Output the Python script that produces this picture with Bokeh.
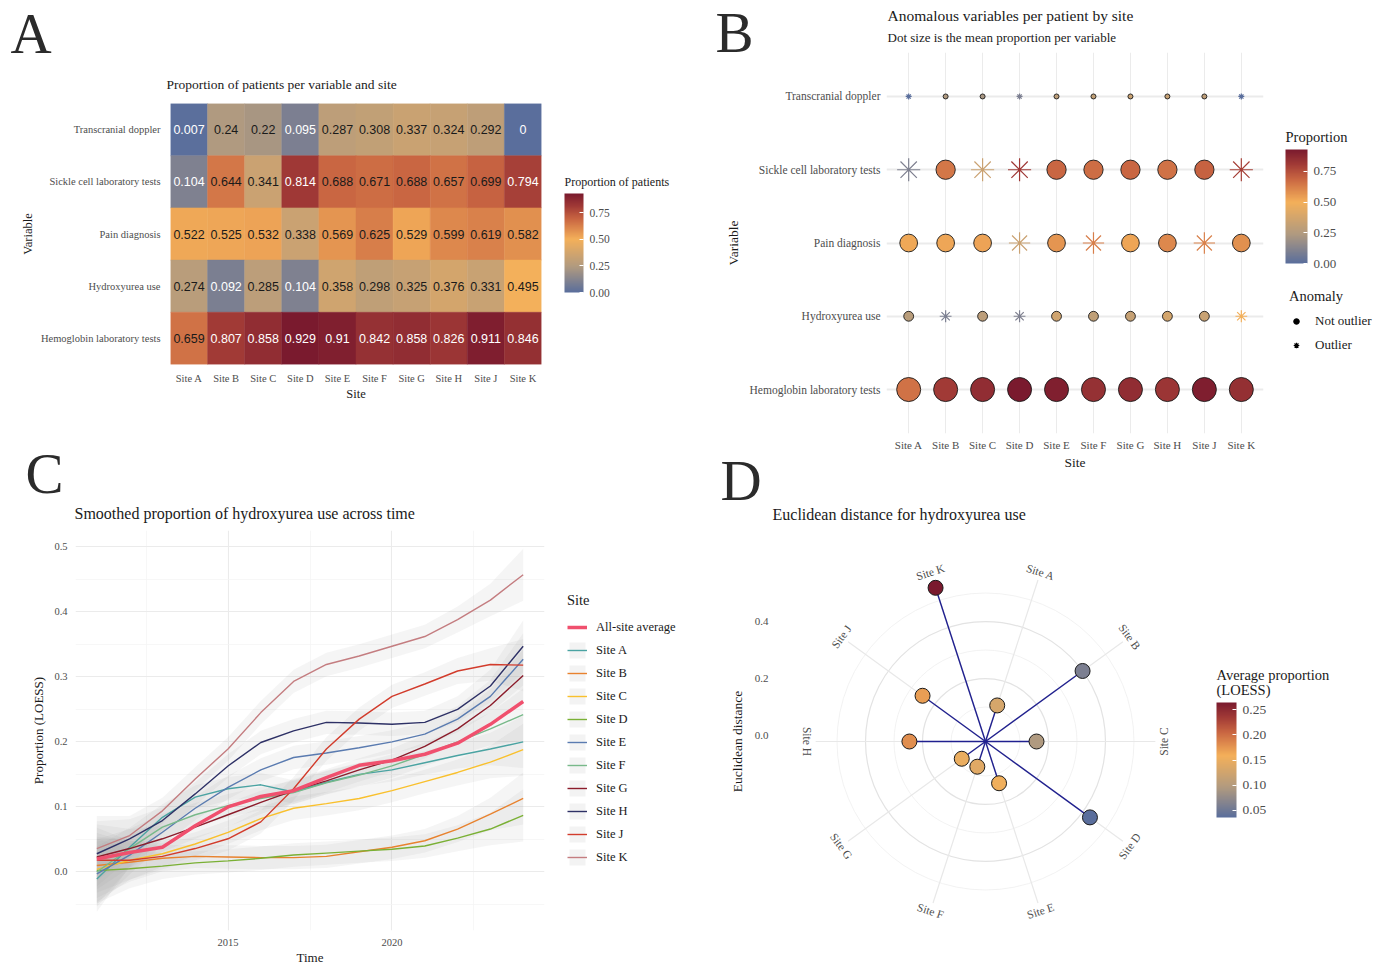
import math
from bokeh.core.properties import value
from bokeh.embed import file_html
from bokeh.layouts import column, row
from bokeh.models import (ColorBar, ColumnDataSource, FactorRange, FixedTicker,
                          Legend, LegendItem, LinearColorMapper, PrintfTickFormatter, Range1d)
from bokeh.plotting import figure
from bokeh.resources import INLINE
from bokeh.transform import transform

SERIF = "Liberation Serif"
SANS = "Liberation Sans"
INK = "#1a1a1a"
TICK_GREY = "#4d4d4d"
GRID = "#ebebeb"
LETTER = "#2b2b2b"

# ---------------------------------------------------------------- data
sites = ["Site A", "Site B", "Site C", "Site D", "Site E",
         "Site F", "Site G", "Site H", "Site J", "Site K"]
variables = ["Transcranial doppler", "Sickle cell laboratory tests", "Pain diagnosis",
             "Hydroxyurea use", "Hemoglobin laboratory tests"]

prop_transcranial_doppler = [0.007, 0.24, 0.22, 0.095, 0.287, 0.308, 0.337, 0.324, 0.292, 0.0]
prop_sickle_cell_tests = [0.104, 0.644, 0.341, 0.814, 0.688, 0.671, 0.688, 0.657, 0.699, 0.794]
prop_pain_diagnosis = [0.522, 0.525, 0.532, 0.338, 0.569, 0.625, 0.529, 0.599, 0.619, 0.582]
prop_hydroxyurea_use = [0.274, 0.092, 0.285, 0.104, 0.358, 0.298, 0.325, 0.376, 0.331, 0.495]
prop_hemoglobin_tests = [0.659, 0.807, 0.858, 0.929, 0.91, 0.842, 0.858, 0.826, 0.911, 0.846]

outlier_transcranial_doppler = [True, False, False, True, False, False, False, False, False, True]
outlier_sickle_cell_tests = [True, False, True, True, False, False, False, False, False, True]
outlier_pain_diagnosis = [False, False, False, True, False, True, False, False, True, False]
outlier_hydroxyurea_use = [False, True, False, True, False, False, False, False, False, True]
outlier_hemoglobin_tests = [False, False, False, False, False, False, False, False, False, False]

years = [2011, 2012, 2013, 2014, 2015, 2016, 2017, 2018, 2019, 2020, 2021, 2022, 2023, 2024]
hu_all_site_average = [0.020, 0.030, 0.038, 0.071, 0.100, 0.116, 0.125, 0.145, 0.164, 0.171, 0.181, 0.198, 0.227, 0.262]
hu_site_a = [-0.011, 0.038, 0.084, 0.115, 0.128, 0.134, 0.123, 0.138, 0.150, 0.157, 0.168, 0.179, 0.189, 0.200]
hu_site_b = [0.010, 0.015, 0.021, 0.024, 0.023, 0.022, 0.022, 0.024, 0.031, 0.038, 0.048, 0.066, 0.089, 0.113]
hu_site_c = [0.004, 0.018, 0.028, 0.043, 0.061, 0.082, 0.098, 0.105, 0.113, 0.125, 0.139, 0.153, 0.169, 0.188]
hu_site_d = [0.002, 0.005, 0.009, 0.014, 0.017, 0.021, 0.026, 0.029, 0.032, 0.035, 0.040, 0.052, 0.066, 0.087]
hu_site_e = [-0.003, 0.026, 0.061, 0.098, 0.130, 0.157, 0.176, 0.183, 0.191, 0.200, 0.212, 0.235, 0.270, 0.327]
hu_site_f = [0.000, 0.036, 0.069, 0.088, 0.102, 0.113, 0.122, 0.137, 0.149, 0.163, 0.181, 0.200, 0.220, 0.242]
hu_site_g = [0.023, 0.036, 0.051, 0.069, 0.088, 0.107, 0.125, 0.140, 0.157, 0.172, 0.193, 0.220, 0.256, 0.302]
hu_site_h = [0.028, 0.051, 0.079, 0.120, 0.163, 0.199, 0.217, 0.230, 0.229, 0.227, 0.230, 0.250, 0.286, 0.347]
hu_site_j = [0.018, 0.018, 0.024, 0.036, 0.051, 0.077, 0.128, 0.189, 0.235, 0.270, 0.289, 0.309, 0.319, 0.318]
hu_site_k = [0.036, 0.056, 0.094, 0.143, 0.189, 0.245, 0.293, 0.319, 0.332, 0.347, 0.362, 0.388, 0.418, 0.457]
hu_band_halfwidth = [0.050, 0.030, 0.020, 0.018, 0.018, 0.018, 0.018, 0.018, 0.018, 0.018, 0.018, 0.020, 0.025, 0.040]

euclidean_distance = [0.112, 0.400, 0.158, 0.432, 0.133, 0.072, 0.082, 0.246, 0.252, 0.546]
average_proportion_loess = [0.130, 0.060, 0.095, 0.036, 0.155, 0.140, 0.150, 0.180, 0.170, 0.264]
ring_breaks = [0.1, 0.2, 0.3, 0.4, 0.5]

# ---------------------------------------------------------------- palette
PAL_STOPS = [(0.0, "#5a6e9c"), (0.258, "#b09a80"), (0.538, "#f4b05a"),
             (0.742, "#c96642"), (0.872, "#a13a36"), (1.0, "#7a1a2e")]


def _rgb(h):
    return tuple(int(h[i:i + 2], 16) for i in (1, 3, 5))


def build_palette(n=256):
    out = []
    for k in range(n):
        t = k / (n - 1)
        for (t0, c0), (t1, c1) in zip(PAL_STOPS[:-1], PAL_STOPS[1:]):
            if t <= t1:
                break
        f = (t - t0) / (t1 - t0)
        a, b = _rgb(c0), _rgb(c1)
        out.append("#%02x%02x%02x" % tuple(int(round(x + (y - x) * f)) for x, y in zip(a, b)))
    return out


PALETTE = build_palette()


# ---------------------------------------------------------------- helpers
def canvas(w, h, transparent=False):
    """A figure whose frame is the whole canvas; coordinates are pixels from top-left."""
    c = figure(width=w, height=h, x_range=Range1d(0, w), y_range=Range1d(h, 0), title=None,
               x_axis_location=None, y_axis_location=None, toolbar_location=None,
               output_backend="svg", min_border=0)
    c.outline_line_color = None
    c.grid.visible = False
    if transparent:
        c.background_fill_alpha = 0
        c.border_fill_alpha = 0
    return c


def put_text(c, x, y, text, size, color=INK, font=SERIF, align="left"):
    c.text(x=[x], y=[y], text=[text], text_font=value(font), text_font_size=f"{size}px",
           text_color=color, text_baseline="middle", text_align=align)


def style_axes(p):
    p.outline_line_color = None
    p.axis.axis_line_color = None
    p.axis.major_tick_line_color = None
    p.axis.minor_tick_line_color = None
    p.axis.major_tick_out = 0
    p.axis.major_tick_in = 0
    p.axis.minor_tick_out = 0
    p.axis.minor_tick_in = 0
    p.axis.major_label_text_font = SERIF
    p.axis.major_label_text_color = TICK_GREY
    p.axis.axis_label_text_font = SERIF
    p.axis.axis_label_text_font_style = "normal"
    p.axis.axis_label_text_color = INK


def make_colorbar(mapper, loc, w, h, label_size, ticks):
    return ColorBar(color_mapper=mapper, location=loc, width=w, height=h, padding=0, margin=0,
                    ticker=FixedTicker(ticks=ticks), formatter=PrintfTickFormatter(format="%.2f"),
                    major_label_text_font=SERIF, major_label_text_font_size=f"{label_size}px",
                    major_label_text_color=TICK_GREY, label_standoff=6,
                    major_tick_line_color="white", major_tick_in=4, major_tick_out=0,
                    minor_tick_line_color=None, bar_line_color=None, border_line_color=None,
                    background_fill_color=None)


def legend_style(**kw):
    base = dict(title_text_font=SERIF, title_text_font_size="14.5px", title_text_font_style="normal",
                title_text_color=INK, title_standoff=8, label_text_font=SERIF,
                label_text_color=INK, padding=0, margin=0, border_line_color=None,
                background_fill_alpha=0, inactive_fill_alpha=0)
    base.update(kw)
    return base


rows = [prop_transcranial_doppler, prop_sickle_cell_tests, prop_pain_diagnosis,
        prop_hydroxyurea_use, prop_hemoglobin_tests]
outs = [outlier_transcranial_doppler, outlier_sickle_cell_tests, outlier_pain_diagnosis,
        outlier_hydroxyurea_use, outlier_hemoglobin_tests]
vmax = max(v for r in rows for v in r)

# ================================================================ panel A
hA = canvas(700, 95)
put_text(hA, 10, 33, "A", 57, color=LETTER)
put_text(hA, 166, 84, "Proportion of patients per variable and site", 13.5)

pA = figure(width=555, height=345, x_range=FactorRange(factors=sites),
            y_range=FactorRange(factors=variables[::-1]), title=None, output_backend="svg",
            toolbar_location=None, min_border_left=170, min_border_right=14,
            min_border_top=8, min_border_bottom=76)
mapperA = LinearColorMapper(palette=PALETTE, low=0, high=vmax)
hx, hy, hv, hl, hc = [], [], [], [], []
for var, vals in zip(variables, rows):
    for s, v in zip(sites, vals):
        hx.append(s)
        hy.append(var)
        hv.append(v)
        hl.append(f"{v:g}")
        hc.append("white" if (v < 0.2 or v > 0.75) else INK)
srcA = ColumnDataSource(dict(x=hx, y=hy, v=hv, label=hl, tc=hc))
pA.rect(x="x", y="y", width=1, height=1, source=srcA, fill_color=transform("v", mapperA),
        line_color=transform("v", mapperA), line_width=0.5)
pA.text(x="x", y="y", text="label", source=srcA, text_color="tc", text_align="center",
        text_baseline="middle", text_font=value(SANS), text_font_size="12.5px")
style_axes(pA)
pA.grid.visible = False
pA.xaxis.major_label_text_font_size = "10.5px"
pA.yaxis.major_label_text_font_size = "10.5px"
pA.xaxis.major_label_standoff = 8
pA.yaxis.major_label_standoff = 10
pA.xaxis.axis_label = "Site"
pA.yaxis.axis_label = "Variable"
pA.axis.axis_label_text_font_size = "12.5px"
pA.xaxis.axis_label_standoff = 0
pA.yaxis.axis_label_standoff = 3

sA = canvas(145, 345)
sA.add_layout(make_colorbar(mapperA, (9, 148), 19, 99, 11.5, [0, 0.25, 0.5, 0.75]))
put_text(sA, 9, 86, "Proportion of patients", 12)

# ================================================================ panel C
hC = canvas(700, 85)
put_text(hC, 25, 33, "C", 57, color=LETTER)
put_text(hC, 74, 73, "Smoothed proportion of hydroxyurea use across time", 16)

pC = figure(width=555, height=442, x_range=Range1d(2010.35, 2024.65),
            y_range=Range1d(-0.09, 0.525), title=None, output_backend="svg",
            toolbar_location=None, min_border_left=75, min_border_right=11,
            min_border_top=5, min_border_bottom=37)
series = [hu_site_a, hu_site_b, hu_site_c, hu_site_d, hu_site_e,
          hu_site_f, hu_site_g, hu_site_h, hu_site_j, hu_site_k]
series_colors = ["#4aa3a2", "#e8822e", "#f9c02d", "#7ab035", "#5a7bb0",
                 "#78b98a", "#8b1c2b", "#2e3166", "#d23c2c", "#c47d80"]
AVG_COLOR = "#f0506e"
BAND_FILL, BAND_ALPHA = "#999999", 0.1
band_lo, band_hi = [], []
for vals in series:
    lo = [v - h for v, h in zip(vals, hu_band_halfwidth)]
    hi = [v + h for v, h in zip(vals, hu_band_halfwidth)]
    band_lo.append(lo)
    band_hi.append(hi)
    pC.varea(x=years, y1=lo, y2=hi, fill_color=BAND_FILL, fill_alpha=BAND_ALPHA)
for vals, col in zip(series, series_colors):
    pC.line(x=years, y=vals, line_color=col, line_width=1.4)
pC.line(x=years, y=hu_all_site_average, line_color=AVG_COLOR, line_width=3.5)
style_axes(pC)
pC.xaxis.ticker = FixedTicker(ticks=[2015, 2020], minor_ticks=[2012.5, 2017.5, 2022.5])
pC.yaxis.ticker = FixedTicker(ticks=[0, 0.1, 0.2, 0.3, 0.4, 0.5],
                              minor_ticks=[-0.05, 0.05, 0.15, 0.25, 0.35, 0.45])
pC.yaxis.formatter = PrintfTickFormatter(format="%.1f")
pC.grid.grid_line_color = GRID
pC.grid.grid_line_width = 1.1
pC.grid.minor_grid_line_color = "#f3f3f3"
pC.grid.minor_grid_line_width = 0.7
pC.axis.major_label_text_font_size = "10.5px"
pC.xaxis.major_label_standoff = 8
pC.yaxis.major_label_standoff = 8
pC.xaxis.axis_label = "Time"
pC.yaxis.axis_label = "Proportion (LOESS)"
pC.axis.axis_label_text_font_size = "13px"
pC.xaxis.axis_label_standoff = 1
pC.yaxis.axis_label_standoff = 5

# legend for C: hidden proxy renderers (same styles) inside a side canvas
sC = canvas(145, 442)
key_avg = sC.line(x=years, y=hu_all_site_average, line_color=AVG_COLOR, line_width=3.5,
                  visible=False)
itemsC = [LegendItem(label="All-site average", renderers=[key_avg])]
for s, col, vals, lo, hi in zip(sites, series_colors, series, band_lo, band_hi):
    kb = sC.varea(x=years, y1=lo, y2=hi, fill_color=BAND_FILL, fill_alpha=0.12, visible=False)
    kl = sC.line(x=years, y=vals, line_color=col, line_width=1.4, visible=False)
    itemsC.append(LegendItem(label=s, renderers=[kb, kl]))
sC.add_layout(Legend(items=itemsC, location=(12, 100), title="Site",
                     **legend_style(label_text_font_size="12.5px", glyph_width=20,
                                    glyph_height=20, label_height=20, spacing=3,
                                    label_standoff=9)))

# ================================================================ panel B
hB = canvas(685, 63)
put_text(hB, 15, 32, "B", 57, color=LETTER)
put_text(hB, 187, 15, "Anomalous variables per patient by site", 15.5)
put_text(hB, 187, 37, "Dot size is the mean proportion per variable", 13)

pB = figure(width=575, height=420,
            x_range=FactorRange(factors=sites, range_padding=0.1, range_padding_units="absolute"),
            y_range=FactorRange(factors=variables[::-1], range_padding=0.1,
                                range_padding_units="absolute"),
            title=None, output_backend="svg", toolbar_location=None, min_border_left=186,
            min_border_right=12, min_border_top=0, min_border_bottom=36)
mapperB = LinearColorMapper(palette=PALETTE, low=0, high=vmax)
means = [sum(r) / len(r) for r in rows]
mmin, mmax = min(means), max(means)
DMIN, DMAX = 5.0, 24.0
cx, cy, cv, cs = [], [], [], []
sx, sy, sv, ss = [], [], [], []
for var, vals, flags, m in zip(variables, rows, outs, means):
    t = (m - mmin) / (mmax - mmin)
    d = math.sqrt(DMIN ** 2 + t * (DMAX ** 2 - DMIN ** 2))
    for s, v, f in zip(sites, vals, flags):
        if f:
            sx.append(s); sy.append(var); sv.append(v); ss.append(d * 1.2)
        else:
            cx.append(s); cy.append(var); cv.append(v); cs.append(d)
srcBc = ColumnDataSource(dict(x=cx, y=cy, v=cv, s=cs))
srcBs = ColumnDataSource(dict(x=sx, y=sy, v=sv, s=ss))
pB.scatter(x="x", y="y", size="s", source=srcBc, marker="circle",
           fill_color=transform("v", mapperB), line_color="#1a1a1a", line_width=0.9)
pB.scatter(x="x", y="y", size="s", source=srcBs, marker="asterisk",
           line_color=transform("v", mapperB), line_width=1.2)
style_axes(pB)
pB.xgrid.grid_line_color = GRID
pB.xgrid.grid_line_width = 1
pB.ygrid.grid_line_color = GRID
pB.ygrid.grid_line_width = 2
pB.xaxis.major_label_text_font_size = "11px"
pB.yaxis.major_label_text_font_size = "11.5px"
pB.xaxis.major_label_standoff = 5
pB.yaxis.major_label_standoff = 6
pB.xaxis.axis_label = "Site"
pB.yaxis.axis_label = "Variable"
pB.axis.axis_label_text_font_size = "13.5px"
pB.xaxis.axis_label_standoff = 1
pB.yaxis.axis_label_standoff = 6

sB = canvas(110, 420)
sB.add_layout(make_colorbar(mapperB, (10, 209), 22, 114, 13, [0, 0.25, 0.5, 0.75]))
put_text(sB, 10, 84, "Proportion", 14.5)
srcBkey = ColumnDataSource(dict(x=[means[0]], y=[means[0]]))
dot_r = sB.scatter(x="x", y="y", source=srcBkey, marker="circle", fill_color="black",
                   line_color="black", visible=False)
star_r = sB.scatter(x="x", y="y", source=srcBkey, marker="asterisk", line_color="black",
                    line_width=1.2, visible=False)
sB.add_layout(Legend(items=[LegendItem(label="Not outlier", renderers=[dot_r]),
                            LegendItem(label="Outlier", renderers=[star_r])],
                     location=(14, 119), title="Anomaly",
                     **legend_style(label_text_font_size="13px", glyph_width=14,
                                    glyph_height=14, label_height=14, spacing=8,
                                    label_standoff=12)))

# ================================================================ panel D
hD = canvas(685, 97, transparent=True)
put_text(hD, 20, 32, "D", 57, color=LETTER)
put_text(hD, 72, 66, "Euclidean distance for hydroxyurea use", 16)

OFF = 0.021          # radial position of r = 0 away from the centre (data units)
PX_PER_UNIT = 285
HALF_W = 414 / PX_PER_UNIT / 2
HALF_H = 191 / PX_PER_UNIT
pD = figure(width=505, height=420, x_range=Range1d(-HALF_W, HALF_W),
            y_range=Range1d(-OFF - HALF_H, -OFF + HALF_H), title=None, output_backend="svg",
            toolbar_location=None, min_border_left=78, min_border_right=13,
            min_border_top=5, min_border_bottom=33)
style_axes(pD)
pD.grid.visible = False
pD.xaxis.visible = False
n = len(sites)
thetas = [2 * math.pi * (i + 0.5) / n for i in range(n)]
for rb in ring_breaks:
    major = abs(round(rb / 0.2) * 0.2 - rb) < 1e-9
    pD.circle(x=0, y=-OFF, radius=rb + OFF, fill_color=None,
              line_color="#e3e3e3" if major else "#efefef", line_width=1.2 if major else 0.8)
SPOKE_R, LABEL_R = 0.596, 0.625
pD.segment(x0=[0] * n, y0=[-OFF] * n,
           x1=[SPOKE_R * math.sin(t) for t in thetas],
           y1=[-OFF + SPOKE_R * math.cos(t) for t in thetas],
           line_color="#e8e8e8", line_width=1.2)
lab_angle = []
for t in thetas:
    a = -t
    if math.pi / 2 - 1e-9 <= t <= 3 * math.pi / 2 + 1e-9:
        a += math.pi
    lab_angle.append(a)
srcDl = ColumnDataSource(dict(x=[LABEL_R * math.sin(t) for t in thetas],
                              y=[-OFF + LABEL_R * math.cos(t) for t in thetas],
                              text=sites, angle=lab_angle))
pD.text(x="x", y="y", text="text", angle="angle", source=srcDl, text_align="center",
        text_baseline="middle", text_font=value(SERIF), text_font_size="11.5px",
        text_color=TICK_GREY)
px = [(d + OFF) * math.sin(t) for d, t in zip(euclidean_distance, thetas)]
py = [-OFF + (d + OFF) * math.cos(t) for d, t in zip(euclidean_distance, thetas)]
pD.segment(x0=[0] * n, y0=[-OFF] * n, x1=px, y1=py, line_color="#20208f", line_width=1.4)
mapperD = LinearColorMapper(palette=PALETTE, low=min(average_proportion_loess),
                            high=max(average_proportion_loess))
srcDp = ColumnDataSource(dict(x=px, y=py, v=average_proportion_loess))
pD.scatter(x="x", y="y", source=srcDp, size=15, marker="circle",
           fill_color=transform("v", mapperD), line_color="#1a1a1a", line_width=1)
pD.yaxis.ticker = FixedTicker(ticks=[0.0, 0.2, 0.4])
pD.yaxis.formatter = PrintfTickFormatter(format="%.1f")
pD.yaxis.major_label_text_font_size = "11px"
pD.yaxis.major_label_standoff = 10
pD.yaxis.axis_label = "Euclidean distance"
pD.yaxis.axis_label_text_font_size = "13.5px"
pD.yaxis.axis_label_standoff = 7

sD = canvas(180, 420)
sD.add_layout(make_colorbar(mapperD, (11, 148), 20, 115, 13.5,
                            [0.05, 0.10, 0.15, 0.20, 0.25]))
put_text(sD, 11, 129, "Average proportion", 14.5)
put_text(sD, 11, 144, "(LOESS)", 14.5)

# ================================================================ layout
left = column(row(hA), row(row(pA), row(sA)), row(hC), row(row(pC), row(sC)))
right = column(row(hB),
               row(row(pB), row(sB), margin=(-11, 0, 0, 0)),
               row(hD, margin=(-24, 0, 0, 0)),
               row(row(pD), row(sD)))
layout = row(left, right)
with open("out.html", "w") as fh:
    fh.write(file_html(layout, INLINE, title="Hydroxyurea panels"))
